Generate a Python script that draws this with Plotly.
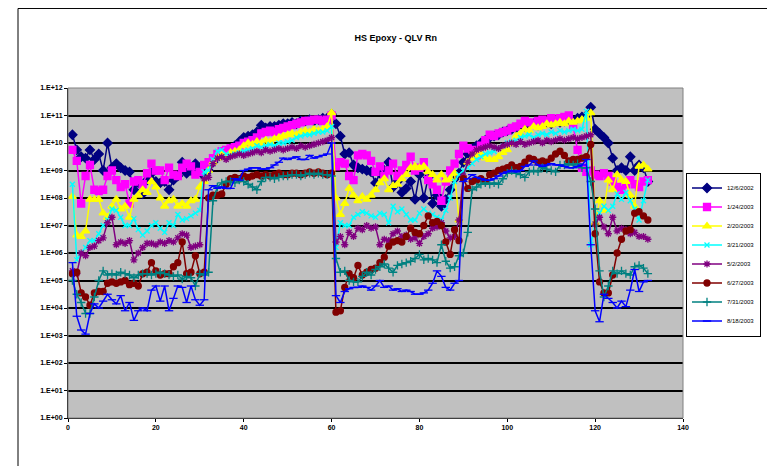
import plotly.graph_objects as go

# x positions (sample index)
x_vals = list(range(1, 133))

log_12_6_2002 = [
    10.3, 9.75, 9.5, 9.45, 9.75, 9.4, 9.6, 9.0, 10.0, 9.1,
    9.25, 9.1, 9.0, 8.95, 8.3, 8.55, 8.15, 8.65, 8.9, 8.6,
    8.55, 8.6, 8.3, 8.65, 8.8, 9.3, 8.9, 9.0, 9.25, 9.1,
    8.8, 9.0, 9.3, 9.5, 9.6, 9.55, 9.8, 9.9, 10.05, 10.2,
    10.25, 10.3, 10.4, 10.65, 10.55, 10.6, 10.6, 10.65, 10.7, 10.7,
    10.75, 10.7, 10.8, 10.8, 10.85, 10.8, 10.85, 10.9, 10.9, 11.05,
    10.7, 10.25, 9.6, 9.65, 9.2, 9.1, 9.05, 9.0, 8.95, 8.55,
    8.9, 9.0, 9.3, 8.4, 8.6, 8.2, 8.35, 8.6, 7.95, 8.85,
    8.0, 8.75, 7.8, 8.1, 7.7, 7.95, 8.3, 8.7, 8.9, 9.3,
    9.6, 9.8, 9.9, 10.0, 10.1, 10.2, 10.25, 10.3, 10.4, 10.45,
    10.5, 10.55, 10.6, 10.6, 10.65, 10.7, 10.65, 10.7, 10.75, 10.7,
    10.8, 10.75, 10.8, 10.85, 10.8, 10.9, 10.95, 11.0, 11.3, 10.5,
    10.35, 10.2, 10.0, 9.45, 9.0, 9.1, 9.0, 9.5, 9.0, 9.2,
    9.1, 8.6,
]
log_1_24_2003 = [
    9.75, 9.35, 7.8, 8.8, 9.2, 8.3, 8.25, 8.3, 8.8, 9.0,
    8.65, 8.4, 8.5, 7.8, 8.6, 8.65, 8.5, 8.9, 9.25, 9.0,
    9.0, 8.65, 9.1, 8.85, 8.8, 9.1, 9.25, 9.15, 8.85, 8.95,
    9.2, 9.3, 9.45, 9.6, 9.7, 9.75, 9.8, 9.85, 9.9, 10.0,
    10.05, 10.1, 10.2, 10.35, 10.4, 10.45, 10.4, 10.5, 10.55, 10.6,
    10.65, 10.7, 10.75, 10.8, 10.8, 10.85, 10.85, 10.8, 10.85, 11.0,
    9.15, 9.3, 9.25, 8.8, 8.65, 9.55, 9.6, 9.55, 9.35, 8.95,
    9.15, 8.8, 9.0, 9.25, 8.8, 9.0, 9.2, 9.5, 9.0, 9.1,
    9.3, 8.65, 8.5, 8.3, 7.9, 8.6, 9.0, 9.25, 9.6, 9.9,
    9.8, 9.75, 9.55, 9.9, 10.1, 10.3, 10.25, 10.35, 10.4, 10.45,
    10.55, 10.6, 10.7, 10.8, 10.75, 10.7, 10.8, 10.85, 10.8, 10.9,
    10.85, 10.9, 10.95, 11.0, 10.6, 9.75, 9.1, 8.95, 9.0, 8.85,
    8.8, 8.9, 8.8, 8.6, 8.4, 8.3, 8.5, 8.65, 8.5, 8.4,
    8.6, 8.65,
]
log_2_20_2003 = [
    8.05, 6.65, 6.6, 6.8, 7.95, 7.95, 7.95, 7.45, 7.3, 7.7,
    7.95, 7.6, 7.7, 7.3, 7.95, 8.1, 8.3, 8.2, 8.6, 8.4,
    8.0, 7.7, 7.9, 7.95, 7.7, 7.8, 7.7, 7.9, 7.95, 8.4,
    8.6, 9.0, 9.3, 9.45, 9.6, 9.5, 9.65, 9.7, 9.75, 9.9,
    10.0, 9.95, 10.05, 10.0, 10.1, 10.05, 10.15, 10.2, 10.25, 10.3,
    10.35, 10.3, 10.4, 10.45, 10.4, 10.5, 10.45, 10.5, 10.6, 11.1,
    8.0, 7.4, 7.8, 8.35, 8.1, 7.9, 8.05, 7.95, 8.1, 8.3,
    8.55, 8.7, 8.3, 8.45, 8.5, 8.7, 8.85, 9.1, 9.15, 9.1,
    9.15, 8.95, 8.85, 8.65, 8.85, 8.65, 8.7, 8.9, 7.2, 8.75,
    9.3, 9.45, 9.55, 9.6, 9.45, 9.4, 9.4, 9.5, 9.65, 9.75,
    10.0, 10.25, 10.35, 10.5, 10.45, 10.6, 10.55, 10.6, 10.7, 10.65,
    10.7, 10.75, 10.7, 10.8, 10.75, 10.8, 10.85, 10.9, 11.1, 7.1,
    7.9, 7.55, 8.65, 8.3, 8.85, 8.65, 8.6, 8.1, 7.7, 9.15,
    9.2, 9.05,
]
log_3_21_2003 = [
    8.5, 5.75, 6.0, 6.2, 6.45, 6.45, 6.7, 7.0, 7.2, 7.6,
    7.55, 7.3, 7.0, 7.0, 7.25, 6.85, 6.65, 6.8, 7.0, 7.1,
    6.9, 6.75, 7.1, 7.0, 7.4, 7.2, 7.25, 7.35, 7.45, 7.55,
    8.95, 9.0, 9.4, 9.7, 9.75, 9.6, 9.55, 9.6, 9.65, 9.7,
    9.75, 9.8, 9.9, 9.85, 9.9, 9.95, 9.9, 10.0, 10.0, 10.05,
    10.1, 10.2, 10.25, 10.3, 10.3, 10.35, 10.4, 10.4, 10.45, 10.6,
    6.2, 7.1, 7.0, 7.0, 7.3, 7.4, 7.5, 7.45, 7.35, 7.3,
    7.45, 7.4, 7.1, 7.7, 7.5, 7.6, 7.4, 7.2, 7.2, 7.45,
    7.6, 7.45, 7.4, 7.3, 7.2, 7.55, 8.0, 8.6, 8.85, 9.0,
    9.1, 9.25, 9.4, 9.5, 9.6, 9.65, 9.7, 9.8, 9.9, 10.0,
    10.05, 10.1, 10.2, 10.25, 10.3, 10.2, 10.3, 10.35, 10.3, 10.4,
    10.35, 10.45, 10.4, 10.45, 10.5, 10.45, 10.5, 11.15, 6.3, 7.05,
    7.45, 7.7, 7.55, 7.7, 8.15, 7.95, 8.2, 7.9, 7.6, 7.2,
    7.9, 8.65,
]
log_5_2_2003 = [
    5.35, 5.25, 6.0, 5.9, 6.2, 6.25, 6.45, 6.55, 7.1, 7.3,
    6.3, 6.4, 6.35, 6.45, 5.75, 6.0, 6.2, 6.35, 6.35, 6.3,
    6.4, 6.35, 6.45, 6.4, 6.55, 6.7, 6.65, 6.2, 6.25, 6.3,
    8.7, 8.75, 9.25, 9.45, 9.5, 9.4, 9.5, 9.55, 9.6, 9.55,
    9.6, 9.65, 9.7, 9.65, 9.75, 9.7, 9.75, 9.8, 9.75, 9.8,
    9.85, 9.8, 9.9, 9.85, 9.9, 9.95, 10.0, 10.05, 10.1, 10.2,
    6.4, 6.6, 6.3, 6.75, 6.6, 6.9, 6.85, 7.0, 6.9, 6.95,
    6.3, 6.5, 6.45, 6.7, 6.8, 6.6, 6.65, 6.5, 6.55, 6.35,
    6.6, 6.7, 6.9, 6.95, 7.1, 6.8, 6.55, 6.6, 7.2, 8.8,
    9.3, 9.6, 9.75, 9.8, 9.85, 9.9, 9.85, 9.8, 9.9, 9.95,
    10.0, 9.95, 10.05, 9.95, 10.0, 10.05, 10.1, 10.0, 10.1, 10.05,
    10.1, 10.15, 10.1, 10.15, 10.2, 10.15, 10.2, 10.25, 10.3, 7.05,
    7.3, 6.95, 6.7, 7.3, 6.8, 6.9, 6.85, 6.7, 6.75, 6.6,
    6.6, 6.5,
]
log_6_27_2003 = [
    5.25, 5.3, 4.55, 4.4, 4.1, 4.55, 4.6, 4.6, 4.9, 4.95,
    4.9, 4.95, 5.0, 4.85, 4.9, 4.8, 5.25, 5.3, 5.65, 5.35,
    5.2, 5.25, 5.25, 5.5, 5.65, 6.4, 5.25, 5.3, 5.9, 5.25,
    5.3, 8.0, 8.1, 8.1, 8.15, 8.5, 8.7, 8.75, 8.7, 8.8,
    8.75, 8.8, 8.85, 8.8, 8.85, 8.8, 8.85, 8.9, 8.85, 8.85,
    8.9, 8.9, 8.85, 8.9, 8.95, 8.9, 8.95, 8.9, 8.85, 8.9,
    3.85, 3.9, 4.75, 5.25, 5.1, 5.55, 5.2, 5.3, 5.4, 5.45,
    5.65, 5.85, 6.25, 6.4, 6.45, 6.4, 6.6, 6.9, 6.75, 6.7,
    7.0, 7.35, 7.1, 7.15, 7.0, 6.4, 5.95, 6.85, 6.45, 8.7,
    8.35, 8.6, 8.65, 8.7, 8.6, 8.85, 8.9, 9.0, 9.05, 9.1,
    9.2, 9.1, 9.15, 9.3, 9.45, 9.4, 9.3, 9.35, 9.3, 9.45,
    9.6, 9.7, 9.55, 9.35, 9.4, 9.4, 9.45, 9.5, 9.95, 6.7,
    4.95, 4.55, 4.55, 5.2, 6.0, 6.5, 6.8, 6.85, 7.45, 7.5,
    7.35, 7.2,
]
log_7_31_2003 = [
    5.0, 4.5, 4.2, 3.8, 3.8, 4.4, 5.0, 5.35, 5.2, 5.25,
    5.2, 5.3, 5.25, 5.2, 5.1, 5.2, 5.25, 5.25, 5.2, 5.25,
    5.3, 5.25, 5.2, 5.15, 5.2, 5.05, 5.15, 5.1, 4.8, 5.25,
    5.2, 5.3, 7.9, 8.4, 8.55, 8.6, 8.6, 8.55, 8.65, 8.6,
    8.5, 8.4, 8.3, 8.6, 8.75, 8.75, 8.7, 8.75, 8.8, 8.8,
    8.85, 8.85, 8.8, 8.85, 8.9, 8.85, 8.9, 8.85, 8.85, 8.8,
    5.8, 5.3, 5.35, 5.0, 4.95, 4.95, 5.15, 5.3, 5.2, 5.4,
    5.5, 5.6, 5.45, 5.3, 5.55, 5.6, 5.65, 5.7, 5.8, 5.95,
    5.75, 5.8, 5.75, 5.65, 6.3, 5.7, 5.45, 5.5, 5.9, 6.0,
    6.75, 8.3, 8.4, 8.5, 8.55, 8.5, 8.55, 8.5, 8.7, 8.9,
    9.0, 8.9, 8.85, 8.75, 8.95, 9.0, 8.95, 9.1, 9.05, 9.0,
    8.95, 9.2, 9.2, 9.25, 9.2, 9.25, 9.1, 9.1, 8.6, 7.6,
    5.35, 4.4, 4.8, 5.35, 5.25, 5.35, 5.25, 5.2, 5.5, 5.55,
    5.45, 5.25,
]
log_8_18_2003 = [
    5.65, 3.7, 3.2, 3.05, 3.8, 4.15, 4.0, 4.25, 4.5, 4.3,
    4.15, 4.45, 3.9, 4.2, 3.55, 3.9, 4.0, 3.9, 4.65, 4.8,
    4.25, 4.8, 3.9, 4.35, 4.8, 4.75, 4.2, 4.8, 4.3, 4.1,
    4.3, 8.3, 8.45, 8.35, 8.4, 8.35, 8.35, 8.7, 8.65, 9.0,
    9.05, 9.1, 9.1, 9.05, 9.05, 9.1, 9.2, 9.3, 9.45, 9.4,
    9.45, 9.5, 9.4, 9.4, 9.55, 9.45, 9.5, 9.55, 9.6, 10.0,
    4.45, 4.2, 4.6, 4.7, 4.75, 4.75, 4.8, 4.75, 4.65, 4.8,
    5.0, 4.75, 4.8, 4.65, 4.7, 4.6, 4.65, 4.6, 4.5, 4.5,
    4.55, 4.65, 4.9, 5.35, 5.15, 4.75, 4.65, 4.9, 5.0, 8.6,
    8.7, 8.85, 8.75, 8.7, 8.65, 8.65, 8.7, 8.8, 8.9, 8.95,
    9.0, 8.95, 9.0, 9.15, 9.2, 9.35, 9.2, 9.15, 9.2, 9.25,
    9.2, 9.2, 9.15, 9.1, 9.1, 9.15, 9.2, 9.4, 6.3, 3.9,
    3.5, 4.5, 4.35, 4.2, 4.0, 4.25, 4.05, 4.65, 5.4, 4.6,
    4.95, 5.0,
]

series_names = ["12/6/2002", "1/24/2003", "2/20/2003", "3/21/2003",
                "5/2/2003", "6/27/2003", "7/31/2003", "8/18/2003"]
series_logs = [log_12_6_2002, log_1_24_2003, log_2_20_2003, log_3_21_2003,
               log_5_2_2003, log_6_27_2003, log_7_31_2003, log_8_18_2003]
colors = ["#000080", "#FF00FF", "#FFFF00", "#00FFFF",
          "#800080", "#800000", "#008080", "#0000FF"]
symbols = ["diamond", "square", "triangle-up", "x-thin-open",
           "asterisk-open", "circle", "cross-thin-open", "line-ew-open"]
sizes = [7, 7, 7, 5, 6, 6, 6, 6]

x_ticks = [0, 20, 40, 60, 80, 100, 120, 140]
y_exponents = list(range(0, 13))
y_ticktext = ["1.E+%02d" % k for k in y_exponents]

FONT = "Liberation Sans, Arial, sans-serif"

fig = go.Figure()
for name, logs, col, sym, sz in zip(series_names, series_logs, colors, symbols, sizes):
    fig.add_trace(go.Scatter(
        x=x_vals, y=[10 ** v for v in logs], name=name,
        mode="lines+markers",
        line=dict(color=col, width=1.5),
        marker=dict(symbol=sym, size=sz, color=col,
                    line=dict(color=col, width=1.3)),
    ))

# page has an 8px body margin: figure is 767x458, plot area 60..675 x 80..410
fig.update_layout(
    width=767, height=458,
    margin=dict(l=60, r=92, t=80, b=48, autoexpand=False),
    paper_bgcolor="white",
    plot_bgcolor="#C0C0C0",
    font=dict(family=FONT, color="black", size=8),
    title=dict(text="<b>HS Epoxy - QLV Rn</b>", x=0.533, xref="paper",
               xanchor="center", y=1 - 30 / 458, yref="container",
               yanchor="middle", font=dict(size=9, family=FONT)),
    showlegend=True,
    legend=dict(xref="container", yref="container",
                x=753 / 767, xanchor="right", y=1 - 246.5 / 458, yanchor="middle",
                bgcolor="white", bordercolor="black", borderwidth=1,
                font=dict(size=6, family=FONT), tracegroupgap=0,
                itemwidth=30),
    xaxis=dict(range=[0, 140], tickvals=x_ticks, showgrid=False,
               zeroline=False, showline=True, linecolor="black", linewidth=1,
               ticks="outside", ticklen=3, tickcolor="black",
               tickfont=dict(size=7, family=FONT, weight="bold")),
    yaxis=dict(type="log", range=[0, 12],
               tickvals=[10 ** k for k in y_exponents], ticktext=y_ticktext,
               showgrid=True, gridcolor="black", gridwidth=1.5,
               zeroline=False, showline=True, linecolor="black", linewidth=1,
               ticks="outside", ticklen=3, tickcolor="black",
               tickfont=dict(size=7, family=FONT, weight="bold")),
    shapes=[
        dict(type="rect", xref="paper", yref="paper", x0=0, x1=1, y0=0, y1=1,
             line=dict(color="#808080", width=1), layer="above"),
        dict(type="rect", xref="paper", yref="paper",
             x0=-0.0813, x1=1.18, y0=-0.2, y1=1.241,
             line=dict(color="black", width=1), layer="above"),
    ],
)

fig.write_html("out.html")
